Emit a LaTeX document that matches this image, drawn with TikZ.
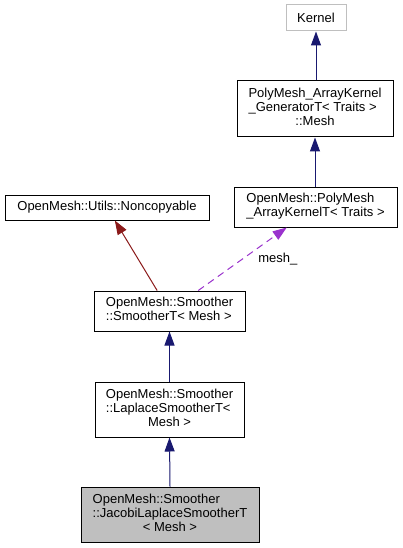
\documentclass[tikz,border=0pt]{standalone}
\usepackage{fontspec}
\setmainfont{Liberation Sans}
\usetikzlibrary{arrows.meta}
\definecolor{edgeblue}{HTML}{191970}
\definecolor{edgered}{HTML}{8B1A1A}
\definecolor{edgepurple}{HTML}{9A32CD}
\definecolor{greybox}{HTML}{BFBFBF}
\begin{document}
\begin{tikzpicture}[x=1pt,y=-1pt,
  font=\fontsize{13}{14}\selectfont,
  box/.style={draw=black, line width=1pt, fill=white, inner sep=0pt, align=center},
  inh/.style={draw=edgeblue, line width=1pt, -{Triangle[length=14pt,width=10pt]}},
  inhred/.style={draw=edgered, line width=1pt, -{Triangle[length=14pt,width=10pt]}},
  usage/.style={draw=edgepurple, line width=1pt, dash pattern=on 7pt off 5pt, -{Triangle[length=14pt,width=10pt]}}
]
\path[fill=white] (0,0) rectangle (402,548);
\useasboundingbox (0,0) rectangle (402,548);

\node[box, draw=greybox, minimum width=60pt, minimum height=26pt] (kernel) at (316,18) {Kernel};
\node[box, minimum width=156pt, minimum height=56pt] (gen) at (315,109)
  {\begin{tabular}{@{}l@{}}PolyMesh\_ArrayKernel\\\_GeneratorT< Traits >\\\multicolumn{1}{@{}c@{}}{::Mesh}\end{tabular}};
\node[box, minimum width=163pt, minimum height=40pt] (akt) at (315.5,207)
  {\begin{tabular}{@{}l@{}}OpenMesh::PolyMesh\\\_ArrayKernelT< Traits >\end{tabular}};
\node[box, minimum width=204pt, minimum height=25pt] (noncopy) at (107,207.5)
  {OpenMesh::Utils::Noncopyable};
\node[box, minimum width=151pt, minimum height=40pt] (smoother) at (169.5,311)
  {\begin{tabular}{@{}l@{}}OpenMesh::Smoother\\::SmootherT< Mesh >\end{tabular}};
\node[box, minimum width=149pt, minimum height=55pt] (laplace) at (169.5,409.5)
  {\begin{tabular}{@{}l@{}}OpenMesh::Smoother\\::LaplaceSmootherT<\\\multicolumn{1}{@{}c@{}}{Mesh >}\end{tabular}};
\node[box, fill=greybox, minimum width=178pt, minimum height=55pt] (jacobi) at (170,514.5)
  {\begin{tabular}{@{}l@{}}OpenMesh::Smoother\\::JacobiLaplaceSmootherT\\\multicolumn{1}{@{}c@{}}{< Mesh >}\end{tabular}};

\draw[inh] (gen.north -| kernel) -- (kernel.south);
\draw[inh] (akt.north -| gen) -- (gen.south);
\draw[inhred] (smoother) -- (noncopy);
\draw[usage] (smoother) -- node[pos=0.5, right=12pt, text=black] (lbl) {mesh\_} (akt);
\draw[inh] (laplace.north) -- (smoother.south);
\draw[inh] (jacobi.north) -- (laplace.south);
\end{tikzpicture}
\end{document}
